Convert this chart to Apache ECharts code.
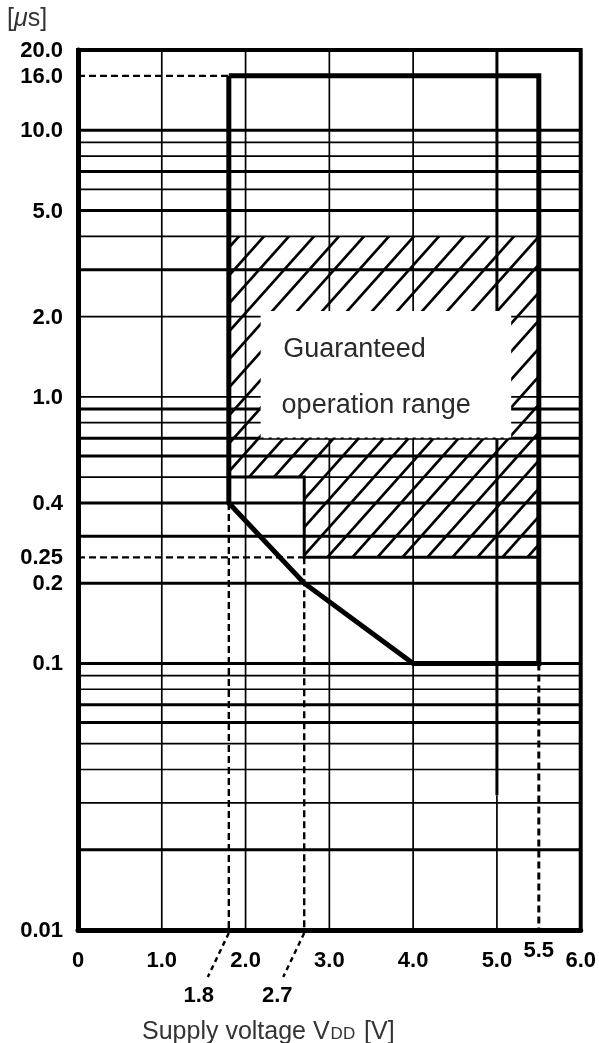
<!DOCTYPE html>
<html><head><meta charset="utf-8">
<script src="https://cdn.jsdelivr.net/npm/echarts@6/dist/echarts.min.js"></script>
<style>html,body{margin:0;padding:0;background:#fff}#c{width:599px;height:1043px}</style>
</head><body><div id="c"></div>
<script>
// ---------- data ----------
const xTicks = [0, 1, 2, 3, 4, 5, 6];
const xTickLabels = ['0', '1.0', '2.0', '3.0', '4.0', '5.0', '6.0'];
const yTickValues = [20, 16, 10, 5, 2, 1, 0.4, 0.25, 0.2, 0.1, 0.01];
const yTickLabels = ['20.0', '16.0', '10.0', '5.0', '2.0', '1.0', '0.4', '0.25', '0.2', '0.1', '0.01'];
const hGridValues = [10, 9, 8, 7, 6, 5, 4, 3, 2, 1, 0.9, 0.8, 0.7, 0.6, 0.5, 0.4, 0.3, 0.2,
                     0.1, 0.09, 0.08, 0.07, 0.06, 0.05, 0.04, 0.03, 0.02];
const vGridValues = [1, 2, 3, 4, 5];
const boundaryX = [1.8, 5.5, 5.5, 4.0, 2.7, 1.8, 1.8];
const boundaryY = [16, 16, 0.1, 0.1, 0.2, 0.4, 16];
const hatchX = [1.8, 5.5, 5.5, 2.7, 2.7, 1.8];
const hatchY = [4, 4, 0.25, 0.25, 0.5, 0.5];
const clearX = [2.18, 5.17];
const clearY = [0.7, 2.1];
const stepX = [1.8, 2.7, 2.7, 5.5];
const stepY = [0.5, 0.5, 0.25, 0.25];
const refX1 = [0, 0, 1.8, 2.7, 5.5];
const refY1 = [16, 0.25, 0.4, 0.25, 0.1];
const refX2 = [1.8, 2.7, 1.8, 2.7, 5.5];
const refY2 = [16, 0.25, 0.01, 0.01, 0.01];
const markerX = [1.8, 2.7, 5.5];
const markerLabels = ['1.8', '2.7', '5.5'];
const regionText = ['Guaranteed', 'operation range'];
const regionTextX = [2.45, 2.43];
const regionTextY = [1.5, 0.93];

// ---------- styles ----------
const boldH = new Set([10, 7, 5, 3, 0.9, 0.7, 0.6, 0.4, 0.3, 0.2, 0.1, 0.07, 0.06, 0.02]);
const boldVTo = {5: 0.032};
const NUMFONT = 'bold 22px "Liberation Sans", Arial, sans-serif';
const markerOffset = [{dx: -30, dy: 66, leader: true}, {dx: -27, dy: 66, leader: true}, {dx: 0, dy: 21, leader: false}];

function makeHatch() {
  const w = 25, h = 28;
  const c = document.createElement('canvas');
  c.width = w; c.height = h;
  const g = c.getContext('2d');
  g.strokeStyle = '#000'; g.lineWidth = 2.7;
  for (let n = 0; n <= 2; n++) {
    g.beginPath();
    g.moveTo(w * (n + 0.2), -0.2 * h);
    g.lineTo(w * (n - 1.2), 1.2 * h);
    g.stroke();
  }
  return c;
}
const hatchPattern = {image: makeHatch(), repeat: 'repeat'};

function seg(api, x1, y1, x2, y2, style) {
  const a = api.coord([x1, y1]), b = api.coord([x2, y2]);
  return {type: 'line', shape: {x1: a[0], y1: a[1], x2: b[0], y2: b[1]},
          style: Object.assign({stroke: '#000', lineWidth: 1.5}, style)};
}
function txt(x, y, text, font, align, fill) {
  return {type: 'text', x: x, y: y,
          style: {text: text, font: font, fill: fill || '#000', align: align, verticalAlign: 'middle',
                  textAlign: align, textVerticalAlign: 'middle'}};
}

const chart = echarts.init(document.getElementById('c'), null, {renderer: 'canvas'});
const option = {
  animation: false,
  backgroundColor: '#fff',
  title: [
    {text: '[{it|μ}s]', left: 2, top: 2,
     textStyle: {fontFamily: 'Liberation Sans', fontSize: 25, fontWeight: 'normal', color: '#333',
                 rich: {it: {fontStyle: 'italic', fontSize: 25, fontFamily: 'Liberation Sans', color: '#333'}}}},
    {text: 'Supply voltage V{s|DD} [V]', left: 137, top: 1015,
     textStyle: {fontFamily: 'Liberation Sans', fontSize: 25, fontWeight: 'normal', color: '#333',
                 rich: {s: {fontSize: 17, fontFamily: 'Liberation Sans', color: '#333', verticalAlign: 'bottom', padding: [0, 2, 2, 1]}}}}
  ],
  grid: {left: 78, right: 15, top: 50, bottom: 113, show: true, borderColor: '#000', borderWidth: 4},
  xAxis: {type: 'value', min: 0, max: 6, interval: 1,
    axisLine: {show: true, onZero: false, lineStyle: {color: '#000', width: 5}},
    axisTick: {show: false}, splitLine: {show: false},
    axisLabel: {margin: 20, fontSize: 22, fontWeight: 'bold', fontFamily: 'Liberation Sans', color: '#000',
      formatter: v => { const i = xTicks.indexOf(Math.round(v * 1000) / 1000); return i >= 0 ? xTickLabels[i] : ''; }}},
  yAxis: {type: 'log', logBase: 10, min: 0.01, max: 20,
    axisLine: {show: true, lineStyle: {color: '#000', width: 5}},
    axisTick: {show: false}, splitLine: {show: false}, axisLabel: {show: false}},
  series: [
    {type: 'custom', name: 'hgrid', z: 1, data: hGridValues.map(v => [0, v]),
     renderItem: (p, api) => { const v = api.value(1);
       return seg(api, 0, v, 6, v, {lineWidth: boldH.has(v) ? 3 : 1.7}); }},
    {type: 'custom', name: 'vgrid', z: 1, data: vGridValues.map(v => [v, 1]),
     renderItem: (p, api) => { const x = api.value(0);
       if (boldVTo[x]) {
         return {type: 'group', children: [
           seg(api, x, 20, x, boldVTo[x], {lineWidth: 3}),
           seg(api, x, boldVTo[x], x, 0.01, {lineWidth: 1.7})]};
       }
       return seg(api, x, 20, x, 0.01, {lineWidth: 1.7}); }},
    {type: 'custom', name: 'hatch', z: 2, data: [[hatchX[0], hatchY[0]]],
     renderItem: (p, api) => ({type: 'polygon',
       shape: {points: hatchX.map((x, i) => api.coord([x, hatchY[i]]))},
       style: {fill: hatchPattern, stroke: null}})},
    {type: 'custom', name: 'clear', z: 3, data: [[clearX[0], clearY[0]]],
     renderItem: (p, api) => { const a = api.coord([clearX[0], clearY[1]]), b = api.coord([clearX[1], clearY[0]]);
       return {type: 'group', children: [
         {type: 'rect', shape: {x: a[0], y: a[1], width: b[0] - a[0], height: b[1] - a[1]}, style: {fill: '#fff', stroke: null}},
         seg(api, clearX[0], clearY[0], clearX[1], clearY[0], {lineWidth: 1.5, lineDash: [3, 5]})]}; }},
    {type: 'custom', name: 'step', z: 4, data: [[stepX[0], stepY[0]]],
     renderItem: (p, api) => ({type: 'polyline',
       shape: {points: stepX.map((x, i) => api.coord([x, stepY[i]]))},
       style: {stroke: '#000', lineWidth: 3, fill: null}})},
    {type: 'custom', name: 'ref', z: 4, data: refX1.map((x, i) => [x, refY1[i]]),
     renderItem: (p, api) => { const i = p.dataIndex;
       return seg(api, refX1[i], refY1[i], refX2[i], refY2[i], {lineWidth: i === 4 ? 3 : 2.4, lineDash: [7, 4]}); }},
    {type: 'line', name: 'boundary', z: 5, data: boundaryX.map((x, i) => [x, boundaryY[i]]),
     showSymbol: false, symbol: 'none', clip: false,
     lineStyle: {color: '#000', width: 5, join: 'miter'}},
    {type: 'custom', name: 'yLabels', z: 6, data: yTickValues.map(v => [0, v]),
     renderItem: (p, api) => { const q = api.coord([0, api.value(1)]);
       return txt(q[0] - 15, q[1] + 1, yTickLabels[p.dataIndex], NUMFONT, 'right'); }},
    {type: 'custom', name: 'markers', z: 6, data: markerX.map(x => [x, 0.01]),
     renderItem: (p, api) => { const i = p.dataIndex, q = api.coord([markerX[i], 0.01]), o = markerOffset[i];
       const kids = [txt(q[0] + o.dx, q[1] + o.dy, markerLabels[i], NUMFONT, 'center')];
       if (o.leader) kids.push({type: 'line', shape: {x1: q[0], y1: q[1] + 3, x2: q[0] - 21, y2: q[1] + 47},
                                style: {stroke: '#000', lineWidth: 2.4, lineDash: [5, 4]}});
       return {type: 'group', children: kids}; }},
    {type: 'custom', name: 'regionText', z: 6, data: regionTextX.map((x, i) => [x, regionTextY[i]]),
     renderItem: (p, api) => { const i = p.dataIndex, q = api.coord([regionTextX[i], regionTextY[i]]);
       return txt(q[0], q[1], regionText[i], '27px "Liberation Sans", Arial, sans-serif', 'left', '#2a2a2a'); }}
  ]
};
chart.setOption(option);
</script></body></html>
